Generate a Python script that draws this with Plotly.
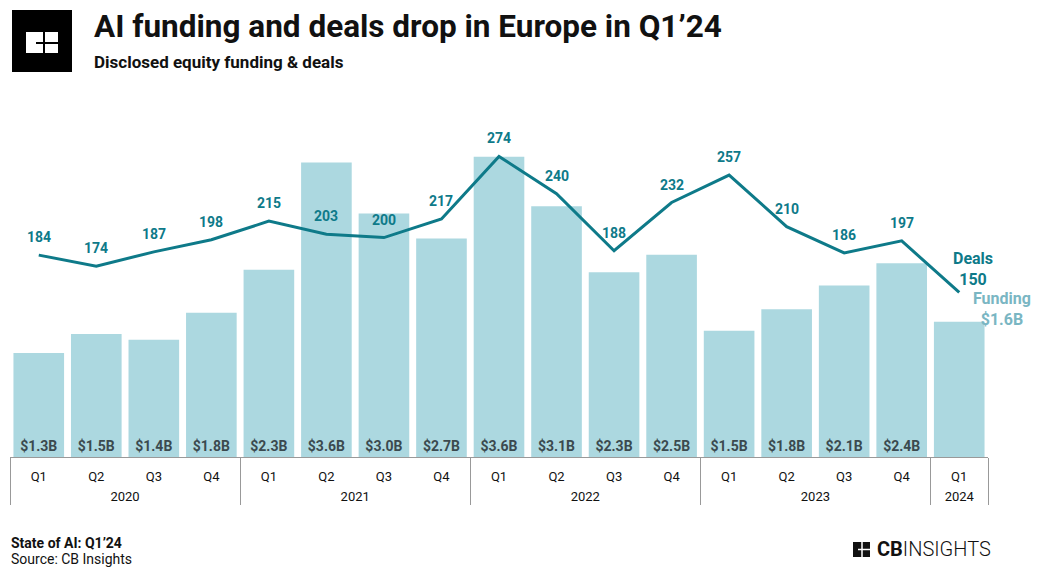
import plotly.graph_objects as go

years = ["2020"] * 4 + ["2021"] * 4 + ["2022"] * 4 + ["2023"] * 4 + ["2024"]
quarters = ["Q1", "Q2", "Q3", "Q4"] * 4 + ["Q1"]
funding = [1.26, 1.49, 1.42, 1.75, 2.27, 3.57, 2.95, 2.65, 3.64, 3.04, 2.24, 2.45, 1.53, 1.79, 2.08, 2.35, 1.64]
funding_labels = ["$1.3B", "$1.5B", "$1.4B", "$1.8B", "$2.3B", "$3.6B", "$3.0B", "$2.7B",
                  "$3.6B", "$3.1B", "$2.3B", "$2.5B", "$1.5B", "$1.8B", "$2.1B", "$2.4B", ""]
deals = [184, 174, 187, 198, 215, 203, 200, 217, 274, 240, 188, 232, 257, 210, 186, 197, 150]

BAR = "#acd8e0"
TEAL = "#0e7a89"
FONT = "Roboto"

W, H = 1040, 572
l, r, t, b = 10, 52, 130, 115
pw, ph = W - l - r, H - t - b


def paper(xp, yp):
    return (xp - l) / pw, (H - b - yp) / ph


quarter_ticks = [f"<span style='font-size:13px;baseline-shift:-11px'>{q}</span><br><span> </span><br><span> </span>"
                 for q in quarters]
year_ticks = [f"<span style='font-size:13px'>{y}</span>" for y in years]

fig = go.Figure()
fig.add_trace(go.Bar(
    x=[year_ticks, quarter_ticks], y=funding, marker_color=BAR, marker_line_width=0,
    text=[f"<b>{s}</b>" for s in funding_labels], textposition="inside",
    insidetextanchor="start", textangle=0,
    textfont=dict(family=FONT, size=14, color="#3b4a4f"),
    yaxis="y", hoverinfo="skip"))
fig.add_trace(go.Scatter(
    x=[year_ticks, quarter_ticks], y=deals, mode="lines", line=dict(color=TEAL, width=3),
    yaxis="y2", hoverinfo="skip", cliponaxis=False))

ann = []
for i, d in enumerate(deals[:-1]):
    ann.append(dict(x=i, y=d, xref="x", yref="y2", text=f"<b>{d}</b>", showarrow=False,
                    yshift=18, font=dict(family=FONT, size=14, color=TEAL)))
ann.append(dict(x=len(deals) - 1, y=deals[-1], xref="x", yref="y2",
                text=f"<b>Deals<br>{deals[-1]}</b>", showarrow=False, xshift=14, yshift=23,
                font=dict(family=FONT, size=16, color=TEAL)))
ann.append(dict(x=len(funding) - 1, y=funding[-1], xref="x", yref="y",
                text=f"<b>Funding<br>${funding[-1]:.1f}B</b>", showarrow=False, xshift=43, yshift=13,
                font=dict(family=FONT, size=16, color="#7ab6c3")))

texts = [
    ("<b>AI funding and deals drop in Europe in Q1’24</b>", 92, 27, 31.5, None),
    ("<b>Disclosed equity funding & deals</b>", 92, 62, 17, None),
    ("<b>State of AI: Q1’24</b>", 9, 543, 14, None),
    ("Source: CB Insights", 9, 559, 14, None),
    ("<b>CB</b>INSIGHTS", 875, 549, 20, 300),
]
for txt, x, y, s, wt in texts:
    px_, py_ = paper(x, y)
    f = dict(family=FONT, size=s, color="#111")
    if wt:
        f["weight"] = wt
    ann.append(dict(x=px_, y=py_, xref="paper", yref="paper", text=txt, showarrow=False,
                    xanchor="left", yanchor="middle", font=f))

fig.update_layout(
    width=W, height=H, margin=dict(l=l, r=r, t=t, b=b, autoexpand=False),
    paper_bgcolor="white", plot_bgcolor="white", showlegend=False, bargap=0.12,
    font=dict(family=FONT, size=13, color="#111"),
    xaxis=dict(type="multicategory", showline=True, linecolor="#999", linewidth=1,
               range=[-0.5, len(quarters) - 0.5], autorange=False,
               showdividers=True, dividercolor="#999", dividerwidth=1, automargin=False,
               ticks="", tickfont=dict(family=FONT, size=10, color="#111"),
               showgrid=False, zeroline=False),
    yaxis=dict(range=[0, 327 / 82.5], visible=False, showgrid=False, zeroline=False, automargin=False),
    yaxis2=dict(range=[0, 327 / 1.097], overlaying="y", visible=False, showgrid=False,
                zeroline=False, automargin=False),
    annotations=ann,
)

shapes = []
sx0, sy0 = paper(12, 10)
sx1, sy1 = paper(72, 72)
shapes.append(dict(type="rect", xref="paper", yref="paper", x0=sx0, y0=sy1, x1=sx1, y1=sy0,
                   fillcolor="#000", line_width=0, layer="above"))
ix0, iy0 = paper(26, 32)
ix1, iy1 = paper(58, 53)
shapes.append(dict(type="rect", xref="paper", yref="paper", x0=ix0, y0=iy1, x1=ix1, y1=iy0,
                   fillcolor="white", line_width=0, layer="above"))
vx, _ = paper(44, 0)
shapes.append(dict(type="line", xref="paper", yref="paper", x0=vx, x1=vx, y0=iy1, y1=iy0,
                   line=dict(color="#000", width=2), layer="above"))
hx0, hy = paper(36, 43)
shapes.append(dict(type="line", xref="paper", yref="paper", x0=hx0, x1=ix1, y0=hy, y1=hy,
                   line=dict(color="#000", width=2), layer="above"))
fx0, fy0 = paper(853, 542)
fx1, fy1 = paper(870, 557)
shapes.append(dict(type="rect", xref="paper", yref="paper", x0=fx0, y0=fy1, x1=fx1, y1=fy0,
                   fillcolor="#111", line_width=0, layer="above"))
fvx, _ = paper(862, 0)
fhx, fhy = paper(858, 549.5)
shapes.append(dict(type="line", xref="paper", yref="paper", x0=fvx, x1=fvx, y0=fy1, y1=fy0,
                   line=dict(color="white", width=1.5), layer="above"))
shapes.append(dict(type="line", xref="paper", yref="paper", x0=fhx, x1=fx1, y0=fhy, y1=fhy,
                   line=dict(color="white", width=1.5), layer="above"))
fig.update_layout(shapes=shapes)

fig.write_html("out.html", config={"displayModeBar": False},
               post_script="document.body.style.margin='0';document.body.style.overflow='hidden';")
